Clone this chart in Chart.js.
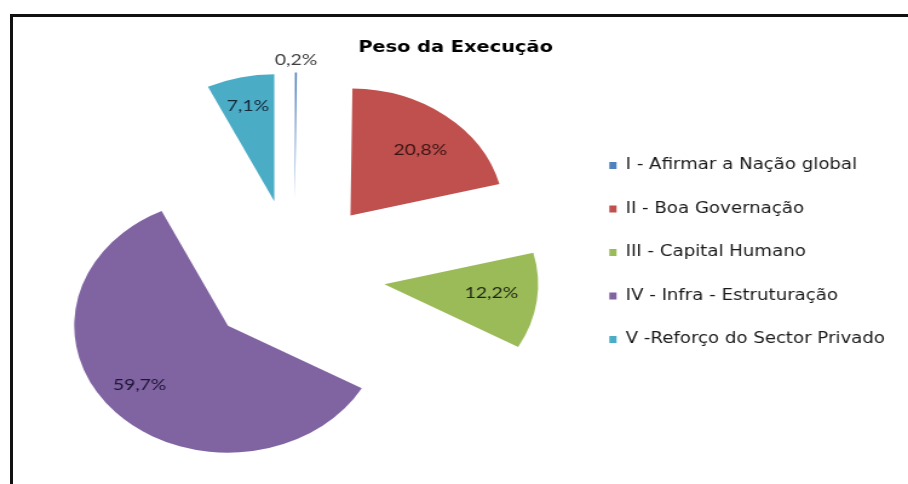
<!DOCTYPE html>
<html>
<head>
<meta charset="utf-8">
<script src="https://cdn.jsdelivr.net/npm/chart.js@4.4.1/dist/chart.umd.min.js"></script>
<style>
  html, body { margin: 0; padding: 0; background: #fff; overflow: hidden; }
  #frame {
    position: absolute; left: 10px; top: 14px; width: 940px; height: 500px;
    border-left: 3px solid #111; border-top: 3px solid #111;
  }
  /* the source picture is stretched sideways, so the chart is drawn narrow and scaled */
  #stage {
    position: absolute; left: 0; top: 0; width: 750px; height: 484px;
    transform: scaleX(1.2107); transform-origin: 0 0;
  }
</style>
</head>
<body>
<div id="frame"></div>
<div id="stage"><canvas id="pieChart" width="750" height="484"></canvas></div>
<script>
const categories = [
  "I - Afirmar a Nação global",
  "II - Boa Governação",
  "III - Capital Humano",
  "IV - Infra - Estruturação",
  "V -Reforço do Sector Privado"
];
const shares = [0.2, 20.8, 12.2, 59.7, 7.1];
const sliceColors = ["#4F81BD", "#C0504D", "#9BBB59", "#8064A2", "#4BACC6"];
const labelColors = ["#404040", "#3a1414", "#1f2612", "#1e1436", "#14283a"];

// where each percentage sits: fraction of radius, angle nudge in degrees
const labelDepth = [1.1, 0.69, 0.70, 0.74, 0.775];
const labelNudge = [0, 3, -2, 4, 0];

const EXPLODE = 75;
const RADIUS = 127;

const shareLabels = shares.map(v => v.toFixed(1).replace(".", ",") + "%");

const explodedSlices = {
  id: "explodedSlices",
  beforeDatasetDraw(chart, args) {
    const ctx = chart.ctx;
    args.meta.data.forEach(arc => {
      const mid = (arc.startAngle + arc.endAngle) / 2;
      ctx.save();
      ctx.translate(Math.cos(mid) * EXPLODE, Math.sin(mid) * EXPLODE);
      arc.draw(ctx);
      ctx.restore();
    });
    return false;
  },
  afterDatasetsDraw(chart) {
    const ctx = chart.ctx;
    const meta = chart.getDatasetMeta(0);
    ctx.save();
    ctx.font = "16px Lato";
    ctx.textAlign = "center";
    ctx.textBaseline = "middle";
    meta.data.forEach((arc, i) => {
      const mid = (arc.startAngle + arc.endAngle) / 2;
      const a = mid + labelNudge[i] * Math.PI / 180;
      const d = labelDepth[i] * arc.outerRadius;
      const x = arc.x + Math.cos(mid) * EXPLODE + Math.cos(a) * d;
      const y = arc.y + Math.sin(mid) * EXPLODE + Math.sin(a) * d;
      ctx.fillStyle = labelColors[i];
      ctx.fillText(shareLabels[i], x, y);
    });
    ctx.restore();
  }
};

const ctx = document.getElementById("pieChart").getContext("2d");

new Chart(ctx, {
  type: "pie",
  data: {
    labels: categories,
    datasets: [{
      data: shares,
      backgroundColor: sliceColors,
      borderWidth: 0,
      radius: RADIUS
    }]
  },
  options: {
    responsive: false,
    animation: false,
    events: [],
    layout: { padding: { left: 11.5, right: 9, top: 0, bottom: 64.5 } },
    plugins: {
      title: {
        display: true,
        text: "Peso da Execução",
        color: "#000",
        font: { family: "DejaVu Sans", size: 16, weight: "bold" },
        padding: { top: 38, bottom: 72.3 }
      },
      legend: {
        position: "right",
        align: "start",
        fullSize: false,
        labels: {
          color: "#1a1a1a",
          font: { family: "DejaVu Sans", size: 15 },
          boxWidth: 6,
          boxHeight: 7,
          padding: 28.5
        }
      },
      tooltip: { enabled: false }
    }
  },
  plugins: [explodedSlices]
});
</script>
</body>
</html>
